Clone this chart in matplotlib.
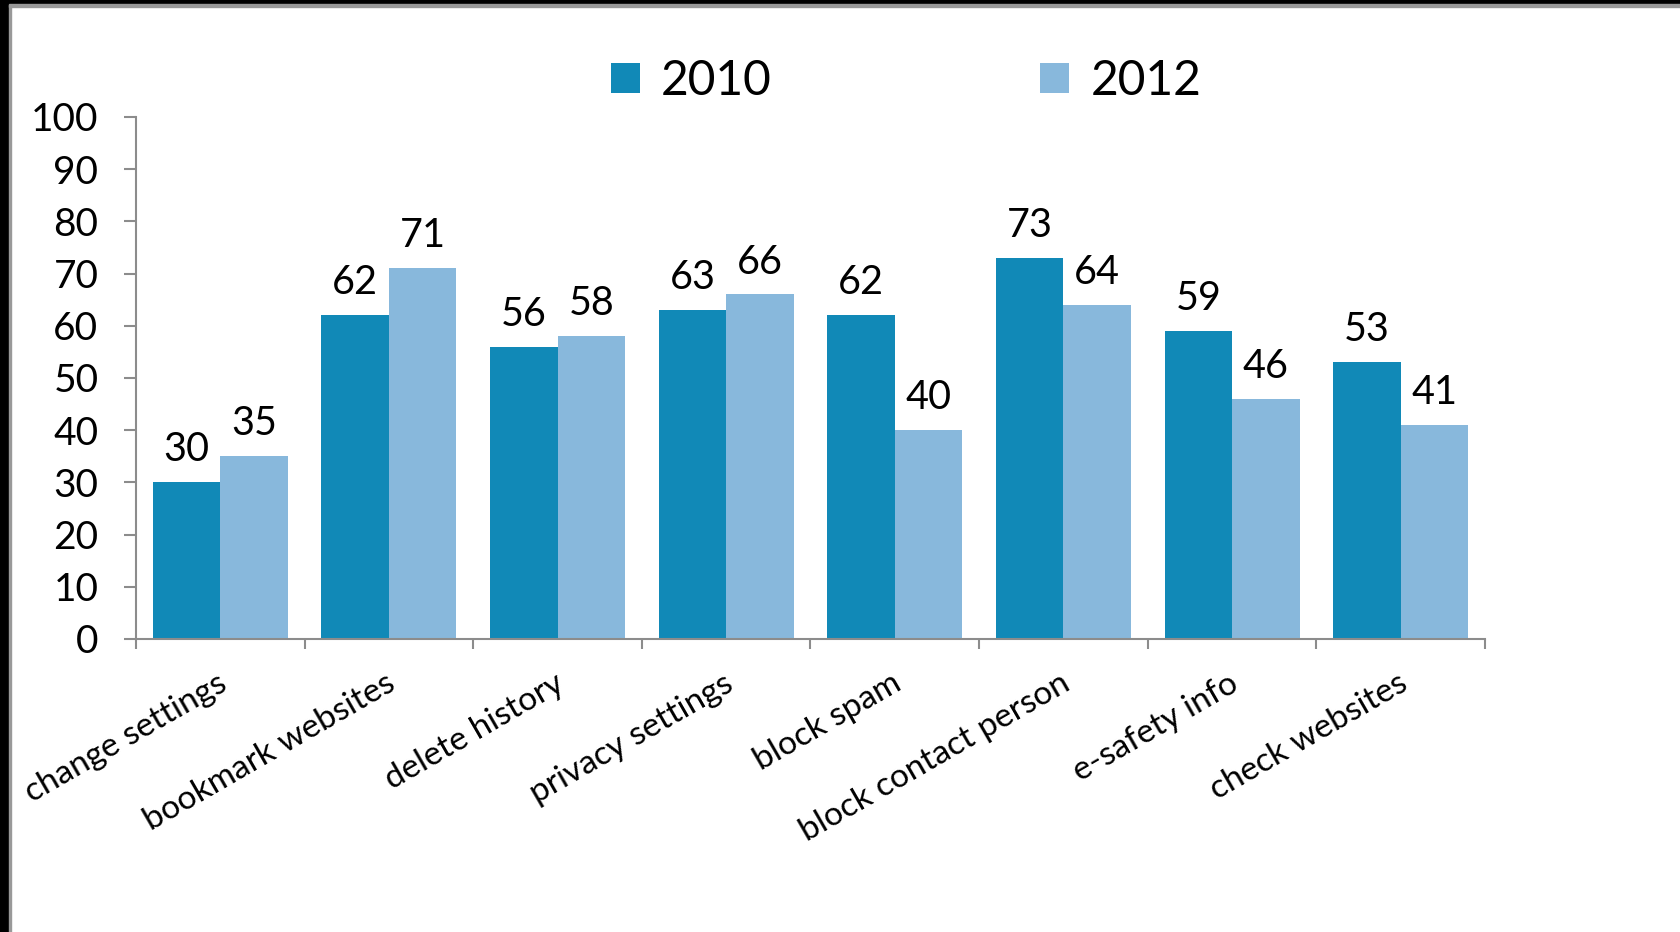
"""Online safety skills, 2010 vs 2012 (grouped bars)
"""
import matplotlib as mpl
import matplotlib.pyplot as plt
import matplotlib.patches as mpatches
import numpy as np

mpl.rcParams['font.family'] = ['Lato', 'DejaVu Sans']

categories = ['change settings', 'bookmark websites', 'delete history', 'privacy settings',
              'block spam', 'block contact person', 'e-safety info', 'check websites']
values_2010 = [30, 62, 56, 63, 62, 73, 59, 53]
values_2012 = [35, 71, 58, 66, 40, 64, 46, 41]
series_labels = ['2010', '2012']
y_ticks = list(range(0, 101, 10))

color_2010 = '#1189b7'
color_2012 = '#88b8dc'
axis_grey = '#8c8c8c'


def main():
    fig = plt.figure(figsize=(16.81, 9.32), dpi=100)
    ax = fig.add_axes([0.0809, 0.3144, 0.8025, 0.5601])

    x = np.arange(len(categories))
    width = 0.4
    bars_a = ax.bar(x - width / 2, values_2010, width, color=color_2010, label=series_labels[0])
    bars_b = ax.bar(x + width / 2, values_2012, width, color=color_2012, label=series_labels[1])

    for bars, vals in ((bars_a, values_2010), (bars_b, values_2012)):
        for b, v in zip(bars, vals):
            ax.annotate(str(v), (b.get_x() + b.get_width() / 2, v), xytext=(0, 10),
                        textcoords='offset points', ha='center', va='bottom', fontsize=28.5)

    ax.set_xlim(-0.5, len(categories) - 0.5)
    ax.set_ylim(0, 100)
    ax.set_yticks(y_ticks)
    ax.tick_params(axis='y', labelsize=28, length=9, width=1.5, color=axis_grey, pad=18)

    # category boundaries carry the x ticks, labels sit on the centres
    ax.set_xticks(np.arange(len(categories) + 1) - 0.5)
    ax.set_xticklabels([])
    ax.tick_params(axis='x', length=7, width=1.5, color=axis_grey)
    for xi, name in zip(x, categories):
        ax.text(xi - 0.02, -5.6, name, rotation=30, ha='right', va='top',
                rotation_mode='anchor', fontsize=24)

    for side in ('top', 'right'):
        ax.spines[side].set_visible(False)
    for side in ('left', 'bottom'):
        ax.spines[side].set_color(axis_grey)
        ax.spines[side].set_linewidth(1.5)

    fig.legend(handles=[bars_a, bars_b], labels=series_labels, loc='center',
               bbox_to_anchor=(0.539, 0.913), ncol=2, frameon=False, fontsize=34.5,
               handlelength=0.6, handleheight=0.6, handletextpad=0.45, columnspacing=5.6)

    # dark frame on the top and left edges
    H = 932.0
    W = 1681.0
    fig.patches.append(mpatches.Rectangle((0, 0), 9 / W, 1, transform=fig.transFigure,
                                          color='black', zorder=10))
    fig.patches.append(mpatches.Rectangle((9 / W, 0), 2.5 / W, 1 - 4 / H, transform=fig.transFigure,
                                          color='#999999', zorder=10))
    fig.patches.append(mpatches.Rectangle((0, 1 - 4 / H), 1, 4 / H, transform=fig.transFigure,
                                          color='black', zorder=10))
    fig.patches.append(mpatches.Rectangle((9 / W, 1 - 6.5 / H), 1, 2.5 / H, transform=fig.transFigure,
                                          color='#999999', zorder=10))

    fig.savefig('out.png', dpi=100, facecolor='white')
    plt.close(fig)


if __name__ == '__main__':
    main()
